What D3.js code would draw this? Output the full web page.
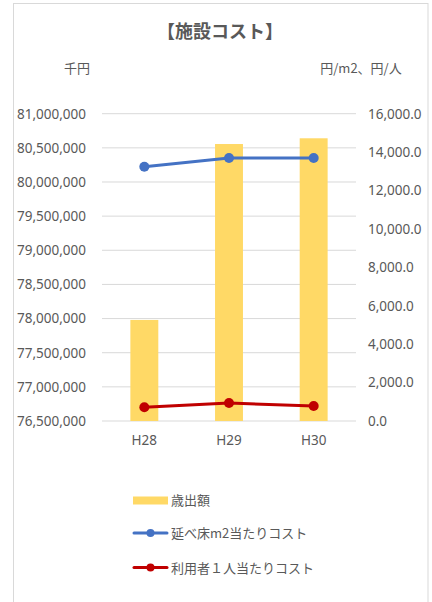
<!DOCTYPE html>
<html><head><meta charset="utf-8">
<script src="https://cdn.jsdelivr.net/npm/d3@7"></script>
<style>body{margin:0;background:#fff;}svg{display:block;font-family:"Noto Sans CJK JP","Noto Sans",sans-serif;}</style>
</head><body><div id="chart"></div>
<script>
const categories = ["H28", "H29", "H30"];
const expenditure = [77980000, 80556000, 80640000];
const costPerM2 = [13240, 13690, 13690];
const costPerUser = [713, 937, 781];
const leftTicks = [76500000, 77000000, 77500000, 78000000, 78500000, 79000000, 79500000, 80000000, 80500000, 81000000];
const rightTicks = [0, 2000, 4000, 6000, 8000, 10000, 12000, 14000, 16000];
const seriesNames = ["歳出額", "延べ床m2当たりコスト", "利用者１人当たりコスト"];
const colors = ["#FFD966", "#4472C4", "#C00000"];

const W = 432, H = 602;
const svg = d3.select("#chart").append("svg").attr("width", W).attr("height", H);
svg.append("rect").attr("x", 13.5).attr("y", 3.5).attr("width", 414.5).attr("height", 610)
  .attr("fill", "#fff").attr("stroke", "#d9d9d9").attr("stroke-width", 1);

const plot = {left: 102, right: 356, top: 113.7, bottom: 421};
const x = d3.scaleBand().domain(categories).range([plot.left, plot.right]).paddingInner(0.67).paddingOuter(0.335);
const yL = d3.scaleLinear().domain([76500000, 81000000]).range([plot.bottom, plot.top]);
const yR = d3.scaleLinear().domain([0, 16000]).range([plot.bottom, plot.top]);
const cx = d => x(d) + x.bandwidth() / 2;

svg.append("text").attr("x", 220).attr("y", 38).attr("text-anchor", "middle")
  .attr("font-size", 18).attr("font-weight", "bold").attr("fill", "#595959").text("【施設コスト】");
svg.append("text").attr("x", 77).attr("y", 73).attr("text-anchor", "middle")
  .attr("font-size", 13).attr("fill", "#595959").text("千円");
svg.append("text").attr("x", 361).attr("y", 73).attr("text-anchor", "middle")
  .attr("font-size", 13).attr("fill", "#595959").text("円/m2、円/人");

// gridlines
svg.append("g").selectAll("line").data(leftTicks).join("line")
  .attr("x1", plot.left).attr("x2", plot.right)
  .attr("y1", d => yL(d)).attr("y2", d => yL(d))
  .attr("stroke", "#d9d9d9").attr("stroke-width", 1);

const fmtL = d3.format(",");
const fmtR = d3.format(",.1f");
const tickFont = "'Noto Sans','Open Sans',sans-serif";
const gL = svg.append("g").attr("transform", `translate(${plot.left - 16},0)`)
  .call(d3.axisLeft(yL).tickValues(leftTicks).tickFormat(fmtL).tickSize(0).tickPadding(0));
gL.select(".domain").remove();
gL.selectAll("text").attr("font-size", 13.5).attr("fill", "#595959").attr("font-family", tickFont);
const gR = svg.append("g").attr("transform", `translate(${plot.right + 12},0)`)
  .call(d3.axisRight(yR).tickValues(rightTicks).tickFormat(fmtR).tickSize(0).tickPadding(0));
gR.select(".domain").remove();
gR.selectAll("text").attr("font-size", 13.5).attr("fill", "#595959").attr("font-family", tickFont);

// bars
svg.append("g").selectAll("rect").data(categories).join("rect")
  .attr("x", d => x(d)).attr("width", x.bandwidth())
  .attr("y", (d, i) => yL(expenditure[i]))
  .attr("height", (d, i) => plot.bottom - yL(expenditure[i]))
  .attr("fill", colors[0]);

// x labels
const gX = svg.append("g").attr("transform", `translate(0,${plot.bottom + 14})`)
  .call(d3.axisBottom(x).tickSize(0).tickPadding(0));
gX.select(".domain").remove();
gX.selectAll("text").attr("font-size", 13.5).attr("fill", "#595959").attr("font-family", tickFont);

// lines
[[costPerM2, colors[1]], [costPerUser, colors[2]]].forEach(([vals, c]) => {
  const line = d3.line().x((d, i) => cx(categories[i])).y(d => yR(d));
  svg.append("path").datum(vals).attr("d", line).attr("fill", "none")
    .attr("stroke", c).attr("stroke-width", 3).attr("stroke-linecap", "round");
  svg.append("g").selectAll("circle").data(vals).join("circle")
    .attr("cx", (d, i) => cx(categories[i])).attr("cy", d => yR(d)).attr("r", 5).attr("fill", c);
});

// legend
const lg = svg.append("g");
lg.append("rect").attr("x", 133).attr("y", 496.5).attr("width", 35).attr("height", 8).attr("fill", colors[0]);
lg.append("text").attr("x", 171).attr("y", 505).attr("font-size", 13).attr("fill", "#595959").text(seriesNames[0]);
[[1, 533], [2, 567.5]].forEach(([i, yy]) => {
  lg.append("line").attr("x1", 134).attr("x2", 167).attr("y1", yy).attr("y2", yy)
    .attr("stroke", colors[i]).attr("stroke-width", 3).attr("stroke-linecap", "round");
  lg.append("circle").attr("cx", 150.5).attr("cy", yy).attr("r", 4).attr("fill", colors[i]);
  lg.append("text").attr("x", 171).attr("y", yy + 5).attr("font-size", 13).attr("fill", "#595959").text(seriesNames[i]);
});
</script></body></html>
